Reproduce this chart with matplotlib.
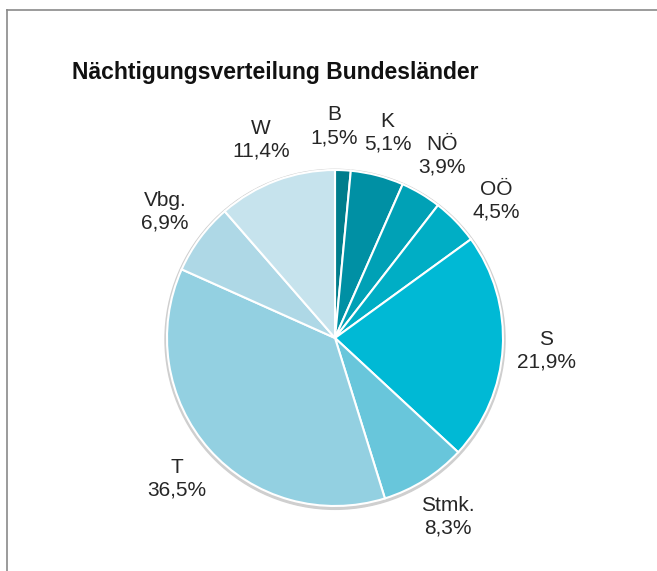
import numpy as np
import matplotlib.pyplot as plt
from matplotlib.lines import Line2D
from matplotlib.patches import Circle

plt.rcParams["font.family"] = ["Liberation Sans", "DejaVu Sans"]

# data
states = ["B", "K", "NÖ", "OÖ", "S", "Stmk.", "T", "Vbg.", "W"]
shares = [1.5, 5.1, 3.9, 4.5, 21.9, 8.3, 36.5, 6.9, 11.4]
colors = ["#007d8c", "#0090a4", "#00a1b6", "#00aec5", "#00b9d5",
          "#68c6db", "#93d0e1", "#aed8e6", "#c6e3ed"]
title = "Nächtigungsverteilung Bundesländer"

W, H = 657, 571
fig = plt.figure(figsize=(W / 100, H / 100), dpi=100)

# pie centre and radius in pixels
cx, cy, r = 335, 338, 168
span = 3.0 * r
ax = fig.add_axes([(cx - span / 2) / W, (H - cy - span / 2) / H, span / W, span / H])
ax.axis("off")

# faint shadow ring
ax.add_patch(Circle((0.0, -0.008), 1.012, color="#cfcfcf", zorder=0))

labels = [s + "\n" + f"{v:.1f}".replace(".", ",") + "%" for s, v in zip(states, shares)]
wedges, texts = ax.pie(
    shares,
    labels=labels,
    colors=colors,
    startangle=90,
    counterclock=False,
    labeldistance=1.26,
    radius=1.0,
    wedgeprops=dict(edgecolor="white", linewidth=1.5),
    textprops=dict(fontsize=15, color="#262626"),
)
for t in texts:
    t.set_ha("center")
    t.set_va("center")
    t.set_linespacing(1.25)
    t.set_clip_on(False)
ax.set_xlim(-1.5, 1.5)
ax.set_ylim(-1.5, 1.5)
ax.set_aspect("equal")

# spread crowded labels along the circle (like Excel's best fit)
fig.canvas.draw()
renderer = fig.canvas.get_renderer()
pos = [t.get_position() for t in texts]
ang = [np.arctan2(y, x) for x, y in pos]
dist = [np.hypot(x, y) for x, y in pos]
pad = 3
step = np.radians(0.2)
for _ in range(300):
    moved = False
    for i in range(len(texts) - 1):
        ea = texts[i].get_window_extent(renderer).padded(pad)
        eb = texts[i + 1].get_window_extent(renderer).padded(pad)
        if ea.overlaps(eb):
            ang[i] += step
            ang[i + 1] -= step
            moved = True
    for t, a, d in zip(texts, ang, dist):
        t.set_position((d * np.cos(a), d * np.sin(a)))
    if not moved:
        break

fig.text(72 / W, 1 - 72 / H, title, fontsize=16.5, fontweight="bold",
         ha="left", va="center", color="#111111")

# chart frame (top and left edges visible)
fig.add_artist(Line2D([7 / W, 1], [1 - 10 / H, 1 - 10 / H], color="#8a8a8a", lw=1.2))
fig.add_artist(Line2D([7 / W, 7 / W], [0, 1 - 10 / H], color="#8a8a8a", lw=1.2))

fig.savefig("out.png", dpi=100)
